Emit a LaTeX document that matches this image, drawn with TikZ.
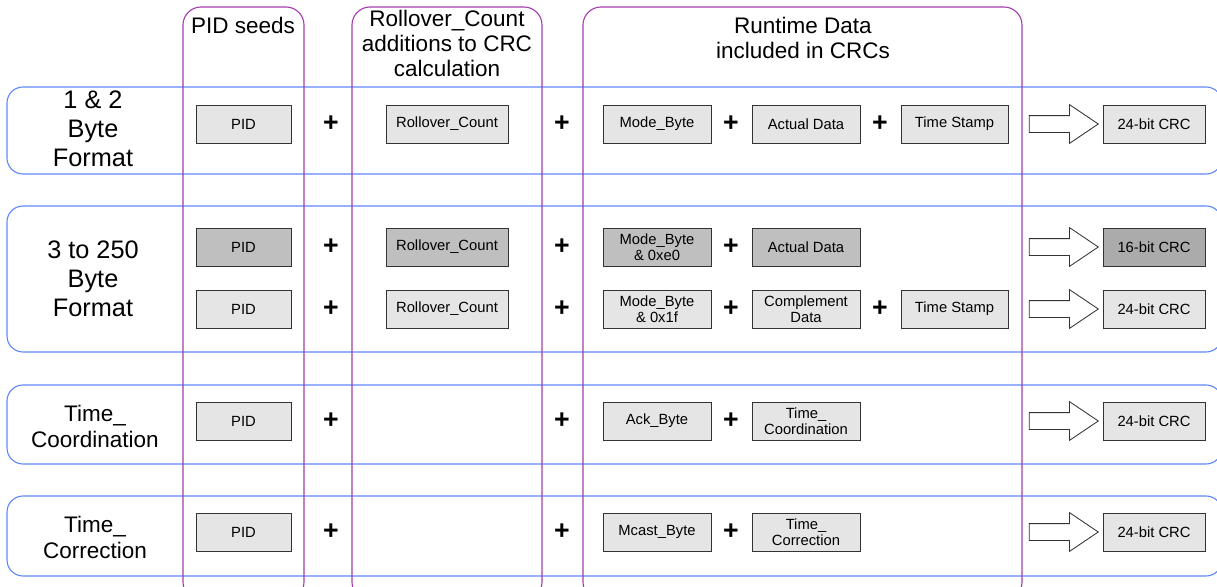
\documentclass[tikz,border=0pt]{standalone}
\usepackage{fontspec}
\setmainfont{Liberation Sans}
\usetikzlibrary{shapes.arrows}
\definecolor{bandblue}{RGB}{95,135,255}
\definecolor{colpurple}{RGB}{165,60,175}

\begin{document}
\begin{tikzpicture}[x=0.025cm, y=-0.025cm,
        band/.style={draw=bandblue, line width=0.8pt, rounded corners=0.4cm},
        column/.style={draw=colpurple, line width=0.8pt, rounded corners=0.45cm},
        head/.style={align=center, font=\fontsize{16}{17.8}\selectfont},
        rowlabel/.style={align=center, font=\fontsize{18}{20.6}\selectfont},
        rowlabelsm/.style={align=center, font=\fontsize{16}{18.5}\selectfont},
        box/.style={draw=black!80, fill=black!10, line width=0.6pt, minimum height=0.95cm, inner sep=0pt, align=center, font=\fontsize{10.5}{11.5}\selectfont},
        darkbox/.style={box, fill=black!25},
        plus/.style={inner sep=0pt, font=\fontsize{19}{19}\selectfont\bfseries},
        bigarrow/.style={single arrow, draw=black!80, fill=white, line width=0.6pt, inner xsep=0pt, inner ysep=0.2cm, minimum width=0.95cm, minimum height=1.725cm, single arrow head extend=0.275cm, single arrow tip angle=68}
    ]
        \useasboundingbox (0,0) rectangle (1217,586);
        \clip (0,0) rectangle (1217,586);

        % Bandas de formato
        \draw[band] (7,87) rectangle (1222,174);
        \draw[band] (7,206) rectangle (1222,352);
        \draw[band] (7,385) rectangle (1222,464);
        \draw[band] (7,496) rectangle (1222,576);

        % Columnas
        \draw[column] (183,7) rectangle (304,600);
        \draw[column] (352,7) rectangle (542,600);
        \draw[column] (583,7) rectangle (1022,600);

        % Cabeceras
        \node[head] (hpid) at (243,25) {PID seeds};
        \node[head] (hroll) at (447,43) {Rollover\_Count\\additions to CRC\\calculation};
        \node[head] (hrun) at (803,38) {Runtime Data\\included in CRCs};

        % Etiquetas de fila
        \node[rowlabel] (lone) at (93,129) {1 \& 2\\Byte\\Format};
        \node[rowlabel] (lthree) at (93,279) {3 to 250\\Byte\\Format};
        \node[rowlabelsm] (lcoord) at (95,426) {Time\_\\Coordination};
        \node[rowlabelsm] (lcorr) at (95,537) {Time\_\\Correction};

        % Fila 1
        \node[box, minimum width=2.375cm] (pidA) at (243.5,124) {PID};
        \node[plus] (pA1) at (331,124) {+};
        \node[box, minimum width=3.05cm] (rollA) at (447,124) {Rollover\_Count};
        \node[plus] (pA2) at (562,124) {+};
        \node[box, minimum width=2.7cm] (modeA) at (657,124) {Mode\_Byte};
        \node[plus] (pA3) at (731,124) {+};
        \node[box, minimum width=2.7cm] (dataA) at (806,124) {Actual Data};
        \node[plus] (pA4) at (880,124) {+};
        \node[box, minimum width=2.675cm] (stampA) at (954.5,124) {Time Stamp};
        \node[bigarrow] (arrA) at (1057.5,124) {};
        \node[box, minimum width=2.55cm] (crcA) at (1154,124) {24-bit CRC};

        % Fila 2, 16 bits
        \node[darkbox, minimum width=2.375cm] (pidB) at (243.5,247) {PID};
        \node[plus] (pB1) at (331,247) {+};
        \node[darkbox, minimum width=3.05cm] (rollB) at (447,247) {Rollover\_Count};
        \node[plus] (pB2) at (562,247) {+};
        \node[darkbox, minimum width=2.7cm] (modeB) at (657,247) {Mode\_Byte\\\& 0xe0};
        \node[plus] (pB3) at (731,247) {+};
        \node[darkbox, minimum width=2.7cm] (dataB) at (806,247) {Actual Data};
        \node[bigarrow] (arrB) at (1057.5,247) {};
        \node[darkbox, fill=black!33, minimum width=2.55cm] (crcB) at (1154,247) {16-bit CRC};

        % Fila 2, 24 bits
        \node[box, minimum width=2.375cm] (pidC) at (243.5,309) {PID};
        \node[plus] (pC1) at (331,309) {+};
        \node[box, minimum width=3.05cm] (rollC) at (447,309) {Rollover\_Count};
        \node[plus] (pC2) at (562,309) {+};
        \node[box, minimum width=2.7cm] (modeC) at (657,309) {Mode\_Byte\\\& 0x1f};
        \node[plus] (pC3) at (731,309) {+};
        \node[box, minimum width=2.7cm] (dataC) at (806,309) {Complement\\Data};
        \node[plus] (pC4) at (880,309) {+};
        \node[box, minimum width=2.675cm] (stampC) at (954.5,309) {Time Stamp};
        \node[bigarrow] (arrC) at (1057.5,309) {};
        \node[box, minimum width=2.55cm] (crcC) at (1154,309) {24-bit CRC};

        % Fila 3
        \node[box, minimum width=2.375cm] (pidD) at (243.5,421) {PID};
        \node[plus] (pD1) at (331,421) {+};
        \node[plus] (pD2) at (562,421) {+};
        \node[box, minimum width=2.7cm] (ackD) at (657,421) {Ack\_Byte};
        \node[plus] (pD3) at (731,421) {+};
        \node[box, minimum width=2.7cm] (timeD) at (806,421) {Time\_\\Coordination};
        \node[bigarrow] (arrD) at (1057.5,421) {};
        \node[box, minimum width=2.55cm] (crcD) at (1154,421) {24-bit CRC};

        % Fila 4
        \node[box, minimum width=2.375cm] (pidE) at (243.5,532) {PID};
        \node[plus] (pE1) at (331,532) {+};
        \node[plus] (pE2) at (562,532) {+};
        \node[box, minimum width=2.7cm] (mcastE) at (657,532) {Mcast\_Byte};
        \node[plus] (pE3) at (731,532) {+};
        \node[box, minimum width=2.7cm] (timeE) at (806,532) {Time\_\\Correction};
        \node[bigarrow] (arrE) at (1057.5,532) {};
        \node[box, minimum width=2.55cm] (crcE) at (1154,532) {24-bit CRC};
    \end{tikzpicture}
\end{document}
